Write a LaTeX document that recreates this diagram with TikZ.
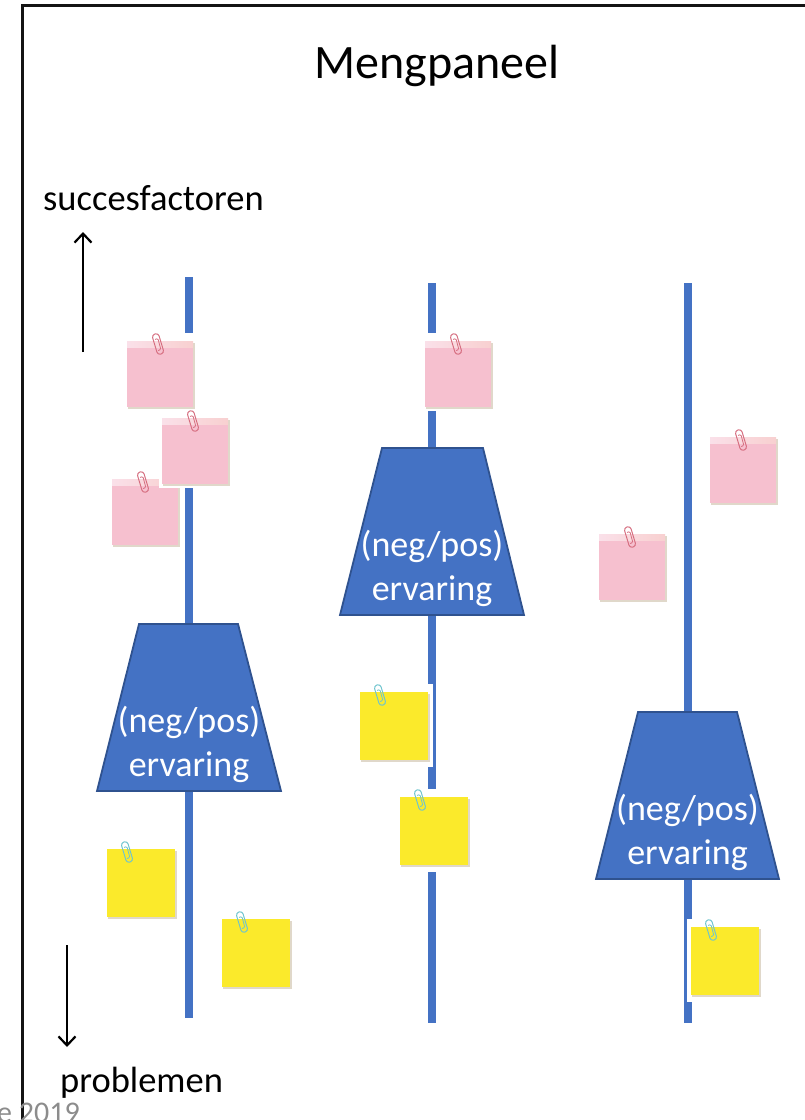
\documentclass[tikz,border=0pt]{standalone}
\usepackage{fontspec}
\setmainfont{Carlito}
\usetikzlibrary{arrows.meta}
\definecolor{officeblue}{RGB}{68,114,196}
\definecolor{trapborder}{RGB}{47,82,143}
\definecolor{notepink}{RGB}{246,192,207}
\definecolor{stripL}{RGB}{250,224,233}
\definecolor{stripR}{RGB}{248,208,208}
\definecolor{clipred}{RGB}{214,110,128}
\definecolor{noteyellow}{RGB}{251,234,43}
\definecolor{clipblue}{RGB}{110,196,206}
\definecolor{noteshadow}{RGB}{224,216,202}
\definecolor{footgray}{RGB}{140,140,140}
\definecolor{framecol}{RGB}{20,20,20}
\begin{document}
\begin{tikzpicture}[x=1pt,y=-1pt,
  frameline/.style={line width=2.6pt, draw=framecol},
  axisarrow/.style={line width=2.2pt, -{Straight Barb[length=9pt,width=17pt]}},
  bluebar/.style={line width=8pt, draw=officeblue},
  trap/.style={fill=officeblue, draw=trapborder, line width=1.8pt, line join=miter},
  traptext/.style={text=white, font=\fontsize{36}{43}\selectfont, inner sep=0pt, anchor=base},
  labeltext/.style={text=black, font=\fontsize{36.5}{43}\selectfont, inner sep=0pt, anchor=base west},
  paperclip/.pic={
    \draw[line width=1pt, rounded corners=3pt, pic actions] (-3.2,1) -- (3.2,-1) -- (9.2,19) -- (2.8,21) -- cycle;
    \draw[line width=0.8pt, rounded corners=1.2pt, pic actions] (0.1,5.4) -- (2.9,4.5) -- (5.9,15.6) -- (3.1,16.5);
  },
  pinknote/.pic={
    \fill[white] (-3,-8) rectangle (70,70);
    \fill[noteshadow] (1,2) rectangle (68,68);
    \fill[notepink] (0,0) rectangle (66,66);
    \shade[left color=stripL, right color=stripR] (0,0.5) rectangle (66,6.5);
    \pic[draw=clipred] at (28,-7) {paperclip};
  },
  yellownote/.pic={
    \fill[white] (-4,-8) rectangle (73,75);
    \fill[noteshadow] (1,2) rectangle (70,70);
    \fill[noteyellow] (0,0) rectangle (68,68);
    \pic[draw=clipblue] at (17,-7) {paperclip};
  }]
\useasboundingbox (0,0) rectangle (805,1120);
\clip (0,0) rectangle (805,1120);

% frame
\coordinate (frTR) at (812,5.5);
\coordinate (frTL) at (22.5,5.5);
\coordinate (frBL) at (22.5,1125);
\draw[frameline] (frTR) -- (frTL) -- (frBL);

% title and axis labels
\node[inner sep=0pt, anchor=base, font=\fontsize{48}{56}\selectfont] (title) at (437,78) {Mengpaneel};
\node[labeltext] (succes) at (43,210) {succesfactoren};
\node[labeltext] (probl) at (60,1092) {problemen};
\node[inner sep=0pt, anchor=base west, text=footgray, font=\fontsize{30}{36}\selectfont] (foot) at (-3,1122) {e 2019};

% axis arrows
\coordinate (upS) at (83,352);
\coordinate (upE) at (83,232);
\draw[axisarrow] (upS) -- (upE);
\coordinate (dnS) at (67,945);
\coordinate (dnE) at (67,1047);
\draw[axisarrow] (dnS) -- (dnE);

% blue vertical lines
\coordinate (l1t) at (189,277);  \coordinate (l1b) at (189,1018);
\coordinate (l2t) at (432,283);  \coordinate (l2b) at (432,1023);
\coordinate (l3t) at (687.5,283); \coordinate (l3b) at (687.5,1023);
\draw[bluebar] (l1t) -- (l1b);
\draw[bluebar] (l2t) -- (l2b);
\draw[bluebar] (l3t) -- (l3b);

% trapezoids
\draw[trap] (139,624) -- (238,624) -- (281,791) -- (97,791) -- cycle;
\node[traptext] (t1a) at (189,732) {(neg/pos)};
\node[traptext] (t1b) at (189,776) {ervaring};

\draw[trap] (382,448) -- (483,448) -- (524,615) -- (340,615) -- cycle;
\node[traptext] (t2a) at (432,556) {(neg/pos)};
\node[traptext] (t2b) at (432,600) {ervaring};

\draw[trap] (638,712) -- (737,712) -- (779,879) -- (596,879) -- cycle;
\node[traptext] (t3a) at (687.5,820) {(neg/pos)};
\node[traptext] (t3b) at (687.5,864) {ervaring};

% pink notes
\pic at (127,341) {pinknote};
\pic at (112,479) {pinknote};
\pic at (162,418) {pinknote};
\pic at (425,341) {pinknote};
\pic at (710,437) {pinknote};
\pic at (599,534) {pinknote};

% yellow notes
\pic at (107,849) {yellownote};
\pic at (222,919) {yellownote};
\pic at (360,692) {yellownote};
\pic at (400,797) {yellownote};
\pic at (691,927) {yellownote};
\end{tikzpicture}
\end{document}
